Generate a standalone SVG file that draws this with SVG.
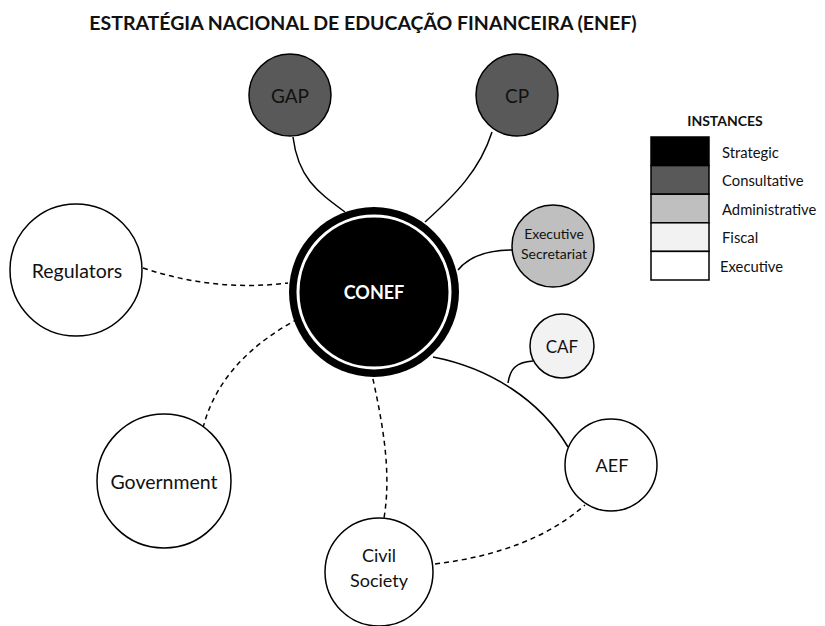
<svg xmlns="http://www.w3.org/2000/svg" width="825" height="626" viewBox="0 0 825 626">
<style>
text{font-family:Lato,"Open Sans","Liberation Sans",sans-serif;fill:#111;text-anchor:middle;dominant-baseline:central}
.node{stroke:#000;stroke-width:1.5}
.c{fill:none;stroke:#000;stroke-width:1.5}
.d{fill:none;stroke:#000;stroke-width:1.5;stroke-dasharray:5 4}
.lg{stroke:#000;stroke-width:1.5}
.lt{font-size:14.8px;text-anchor:start}
</style>
<rect width="825" height="626" fill="#fff"/>
<text x="363" y="22" font-size="19.5" font-weight="bold">ESTRATÉGIA NACIONAL DE EDUCAÇÃO FINANCEIRA (ENEF)</text>
<g id="connectors">
<path class="c" d="M293,137 C298,178 318,192 345,212"/>
<path class="c" d="M492,132 C480,170 455,195 425,222"/>
<path class="c" d="M458,270 C470,255 490,250 513,250"/>
<path class="c" d="M433,357 C490,368 540,400 568,447"/>
<path class="c" d="M508,383 C510,370 515,362 533,361"/>
<path class="d" d="M143,268 Q215,292 288,283"/>
<path class="d" d="M203,428 C215,380 250,345 296,320"/>
<path class="d" d="M371,370 C382,420 392,470 384,518"/>
<path class="d" d="M435,564 C500,556 550,536 585,505"/>
</g>
<g id="conef">
<circle cx="374" cy="292" r="85" fill="#000"/>
<circle cx="374" cy="292" r="76" fill="none" stroke="#fff" stroke-width="3"/>
<text x="374" y="292" font-size="18" font-weight="bold" style="fill:#fff">CONEF</text>
</g>
<g id="gap"><circle class="node" cx="290" cy="95" r="41" fill="#595959"/><text x="290" y="95" font-size="19">GAP</text></g>
<g id="cp"><circle class="node" cx="517" cy="95" r="41" fill="#595959"/><text x="517" y="95" font-size="19">CP</text></g>
<g id="exec"><circle class="node" cx="553" cy="246" r="41" fill="#bfbfbf"/><text x="554" y="233" font-size="14">Executive</text><text x="554" y="253" font-size="14">Secretariat</text></g>
<g id="regulators"><circle class="node" cx="76" cy="270" r="66" fill="#fff"/><text x="77" y="270" font-size="19.5">Regulators</text></g>
<g id="government"><circle class="node" cx="164" cy="481" r="67" fill="#fff"/><text x="164" y="481" font-size="19.5">Government</text></g>
<g id="civil"><circle class="node" cx="379" cy="572" r="54" fill="#fff"/><text x="379" y="555" font-size="18">Civil</text><text x="379" y="580" font-size="18">Society</text></g>
<g id="aef"><circle class="node" cx="611" cy="465" r="46" fill="#fff"/><text x="612" y="465" font-size="18">AEF</text></g>
<g id="caf"><circle class="node" cx="562" cy="346" r="32" fill="#f2f2f2"/><text x="562" y="346" font-size="17">CAF</text></g>
<g id="legend">
<text x="725" y="120" font-size="14" font-weight="bold">INSTANCES</text>
<rect class="lg" x="651" y="137" width="58" height="28.6" fill="#000"/>
<rect class="lg" x="651" y="165.6" width="58" height="28.6" fill="#595959"/>
<rect class="lg" x="651" y="194.2" width="58" height="28.6" fill="#bfbfbf"/>
<rect class="lg" x="651" y="222.8" width="58" height="28.6" fill="#f2f2f2"/>
<rect class="lg" x="651" y="251.4" width="58" height="28.6" fill="#fff"/>
<text class="lt" x="722" y="152">Strategic</text>
<text class="lt" x="722" y="180">Consultative</text>
<text class="lt" x="722" y="209">Administrative</text>
<text class="lt" x="722" y="237">Fiscal</text>
<text class="lt" x="720" y="266">Executive</text>
</g>
</svg>
